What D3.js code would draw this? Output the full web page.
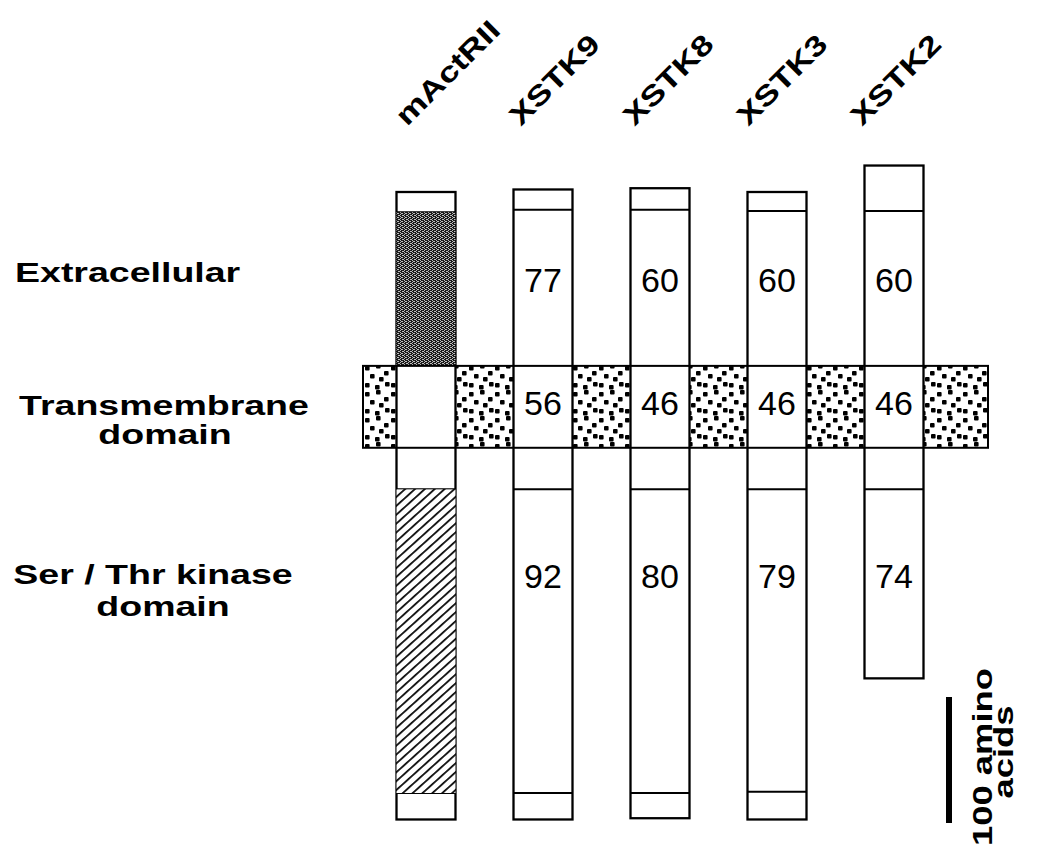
<!DOCTYPE html>
<html>
<head>
<meta charset="utf-8">
<script src="https://cdn.jsdelivr.net/npm/d3@7"></script>
<style>
  html, body { margin: 0; padding: 0; background: #fff; }
  svg { display: block; }
  text { font-family: "Liberation Sans", Arial, Helvetica, sans-serif; fill: #000; }
</style>
</head>
<body>
<svg id="chart" width="1038" height="852"></svg>
<script>
// Receptor names, left to right
const proteins = ["mActRII", "XSTK9", "XSTK8", "XSTK3", "XSTK2"];

// Domain boundaries in amino acids (schematic), counted from the top of mActRII
const nTerm       = [0, -2, -3, 0, -21];
const ecdStart    = [16, 14, 14, 15, 15];
const tmStart     = 138;
const tmEnd       = 203;
const kinaseStart = 236;
const kinaseEnd   = [477, 477, 477, 476, 386];
const cTerm       = [498, 498, 497, 498, 386];

// Percent identity to mActRII, per domain
const identityEcd    = [null, 77, 60, 60, 60];
const identityTm     = [null, 56, 46, 46, 46];
const identityKinase = [null, 92, 80, 79, 74];

// Row captions
const rowLabels = [
  ["Extracellular"],
  ["Transmembrane", "domain"],
  ["Ser / Thr kinase", "domain"]
];
const scaleBarAA = 100;
const scaleBarLabel = ["100 amino", "acids"];

const svg = d3.select("#chart");
const defs = svg.append("defs");

// --- fill patterns ---
// dense dark stipple (mActRII extracellular)
const dark = defs.append("pattern").attr("id", "darkStipple")
  .attr("patternUnits", "userSpaceOnUse").attr("width", 4).attr("height", 4);
dark.append("rect").attr("width", 4).attr("height", 4).attr("fill", "#1a1a1a");
[[0,0],[2,1],[0,2],[2,3],[1,1],[3,3]].forEach(([px,py]) =>
  dark.append("rect").attr("x", px).attr("y", py).attr("width", 1).attr("height", 1).attr("fill", "#bdbdbd"));

// coarse dots (membrane)
const dots = defs.append("pattern").attr("id", "membraneDots")
  .attr("patternUnits", "userSpaceOnUse").attr("width", 26).attr("height", 26);
dots.append("rect").attr("width", 26).attr("height", 26).attr("fill", "#fff");
[[1,2],[12,0],[20,7],[6,10],[15,13],[1,19],[11,21],[21,18]].forEach(([px,py]) =>
  dots.append("rect").attr("x", px).attr("y", py).attr("width", 4.6).attr("height", 4.6)
    .attr("rx", 1).attr("fill", "#000"));

// diagonal hatch (mActRII kinase)
const hatch = defs.append("pattern").attr("id", "hatch")
  .attr("patternUnits", "userSpaceOnUse").attr("width", 6.6).attr("height", 10)
  .attr("patternTransform", "rotate(48)");
hatch.append("rect").attr("width", 6.6).attr("height", 10).attr("fill", "#fff");
hatch.append("line").attr("x1", 0.9).attr("x2", 0.9).attr("y1", 0).attr("y2", 10)
  .attr("stroke", "#000").attr("stroke-width", 1.7);

// --- scales ---
const x = d3.scalePoint().domain(proteins).range([426, 894]);
const labelX = d3.scalePoint().domain(proteins).range([407, 862]);
const y = d3.scaleLinear().domain([0, 100]).range([192, 318]);
const barW = 59;

const fontStyle = (sel, size) => sel.attr("font-weight", "bold").attr("font-size", size || 29);

// --- membrane band ---
const bandX0 = 363, bandX1 = 988;
svg.append("rect").attr("x", bandX0).attr("y", y(tmStart))
  .attr("width", bandX1 - bandX0).attr("height", y(tmEnd) - y(tmStart))
  .attr("fill", "url(#membraneDots)");

// --- receptor bars ---
const bars = svg.append("g").selectAll("g").data(proteins).join("g");

bars.append("rect")
  .attr("x", d => x(d) - barW / 2)
  .attr("y", (d, i) => y(nTerm[i]))
  .attr("width", barW)
  .attr("height", (d, i) => y(cTerm[i]) - y(nTerm[i]))
  .attr("fill", "#fff");

// patterned domains of the reference receptor
const ref = svg.append("g");
ref.append("rect")
  .attr("x", x(proteins[0]) - barW / 2).attr("y", y(ecdStart[0]))
  .attr("width", barW).attr("height", y(tmStart) - y(ecdStart[0]))
  .attr("fill", "url(#darkStipple)");
ref.append("rect")
  .attr("x", x(proteins[0]) - barW / 2).attr("y", y(kinaseStart))
  .attr("width", barW).attr("height", y(kinaseEnd[0]) - y(kinaseStart))
  .attr("fill", "url(#hatch)");

// outlines
bars.append("rect")
  .attr("x", d => x(d) - barW / 2)
  .attr("y", (d, i) => y(nTerm[i]))
  .attr("width", barW)
  .attr("height", (d, i) => y(cTerm[i]) - y(nTerm[i]))
  .attr("fill", "none").attr("stroke", "#000").attr("stroke-width", 2.3);

// domain dividers
bars.each(function (d, i) {
  const g = d3.select(this);
  const cuts = [ecdStart[i], kinaseStart];
  if (kinaseEnd[i] < cTerm[i]) cuts.push(kinaseEnd[i]);
  cuts.forEach(c => g.append("line")
    .attr("x1", x(d) - barW / 2).attr("x2", x(d) + barW / 2)
    .attr("y1", y(c)).attr("y2", y(c))
    .attr("stroke", "#000").attr("stroke-width", 2));
});

// membrane band outline
svg.append("rect").attr("x", bandX0).attr("y", y(tmStart))
  .attr("width", bandX1 - bandX0).attr("height", y(tmEnd) - y(tmStart))
  .attr("fill", "none").attr("stroke", "#000").attr("stroke-width", 2);

// --- identity numbers ---
const rowY = [280, 403, 576];
[identityEcd, identityTm, identityKinase].forEach((vals, r) => {
  const items = vals.map((v, i) => ({ name: proteins[i], v })).filter(o => o.v !== null);
  svg.append("g").selectAll("text").data(items).join("text")
    .attr("x", o => x(o.name))
    .attr("y", rowY[r])
    .attr("dy", "0.36em")
    .attr("text-anchor", "middle")
    .attr("font-size", 34)
    .text(o => o.v);
});

// --- column headers ---
svg.append("g").selectAll("text").data(proteins).join("text")
  .attr("transform", d => `translate(${labelX(d)},127) rotate(-45) scale(1.27,1)`)
  .call(fontStyle, 28)
  .text(d => d);

// --- row captions ---
const captionPos = [
  [{x: 15, y: 282, anchor: "start"}],
  [{x: 164, y: 415, anchor: "middle"}, {x: 165, y: 444, anchor: "middle"}],
  [{x: 153, y: 584, anchor: "middle"}, {x: 163, y: 616, anchor: "middle"}]
];
rowLabels.forEach((lines, r) => lines.forEach((t, k) => {
  const p = captionPos[r][k];
  svg.append("text")
    .attr("transform", `translate(${p.x},${p.y}) scale(1.34,1)`)
    .attr("text-anchor", p.anchor)
    .call(fontStyle, 28)
    .text(t);
}));

// --- scale bar ---
const sbBottom = 823, sbX = 949;
svg.append("line")
  .attr("x1", sbX).attr("x2", sbX)
  .attr("y1", sbBottom).attr("y2", sbBottom - (y(scaleBarAA) - y(0)))
  .attr("stroke", "#000").attr("stroke-width", 6);
svg.append("text")
  .attr("transform", `translate(992,757) rotate(-90) scale(1.3,1)`)
  .attr("text-anchor", "middle").call(fontStyle, 28).text(scaleBarLabel[0]);
svg.append("text")
  .attr("transform", `translate(1013,752) rotate(-90) scale(1.3,1)`)
  .attr("text-anchor", "middle").call(fontStyle, 28).text(scaleBarLabel[1]);
</script>
</body>
</html>
